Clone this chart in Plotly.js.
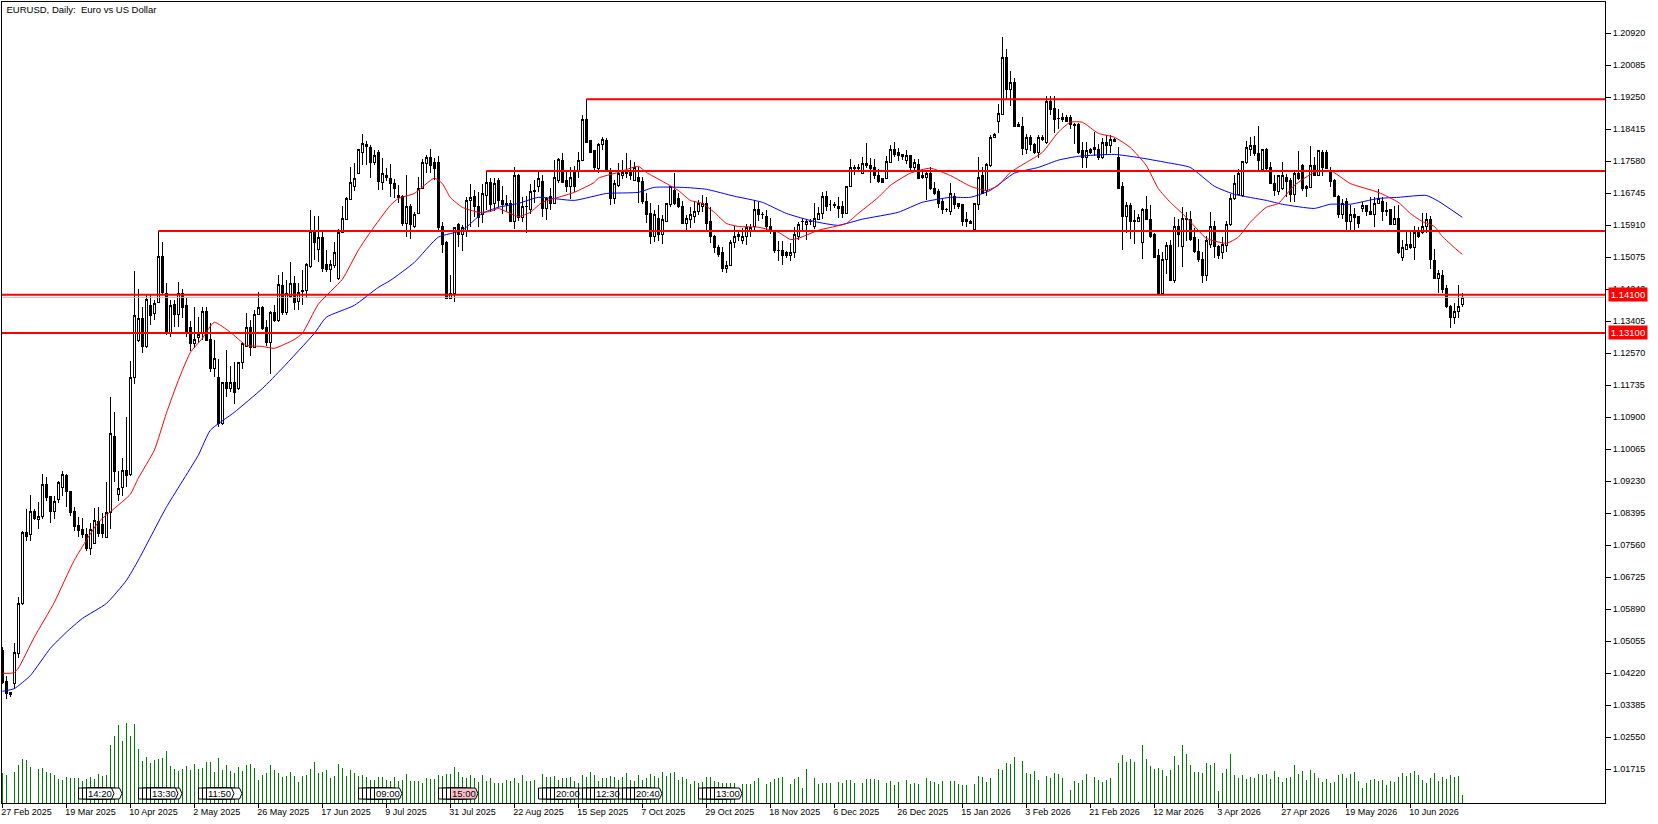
<!DOCTYPE html>
<html>
<head>
<meta charset="utf-8">
<script src="https://cdn.plot.ly/plotly-3.0.1.min.js"></script>
<style>
html,body{margin:0;padding:0;background:#fff}
.boxes path{shape-rendering:crispEdges}
</style>
</head>
<body>
<div id="myDiv" style="width:1658px;height:824px"></div>
<script>
// prices are in 1/10000 of a dollar
var openP = [10482,10401,10372,10395,10473,10604,10790,10784,10845,10822,
10830,10915,10884,10845,10876,10907,10938,10897,10845,10808,
10798,10785,10748,10761,10818,10811,10777,10842,11040,10889,
10907,10952,10941,11194,11291,11348,11275,11382,11361,11390,
11510,11412,11308,11385,11358,11413,11382,11325,11283,11299,
11310,11365,11293,11218,11194,11074,11181,11165,11181,11165,
11233,11275,11325,11272,11358,11377,11325,11285,11364,11343,
11434,11364,11405,11440,11393,11419,11421,11483,11576,11529,
11558,11488,11475,11487,11453,11571,11607,11658,11693,11727,
11782,11801,11795,11754,11782,11704,11720,11712,11701,11670,
11665,11597,11639,11589,11623,11688,11751,11767,11754,11754,
11587,11545,11400,11413,11592,11566,11574,11655,11665,11639,
11618,11670,11704,11647,11709,11657,11649,11649,11602,11722,
11612,11641,11631,11681,11691,11706,11634,11665,11647,11709,
11761,11709,11691,11735,11735,11759,11868,11811,11785,11738,
11801,11811,11735,11662,11696,11722,11730,11730,11709,11717,
11706,11652,11623,11561,11610,11566,11602,11644,11681,11662,
11641,11597,11607,11615,11626,11641,11649,11600,11563,11532,
11519,11477,11485,11545,11566,11552,11561,11576,11587,11633,
11620,11615,11589,11576,11526,11526,11519,11511,11519,11563,
11600,11594,11602,11587,11605,11623,11665,11644,11644,11639,
11639,11623,11691,11738,11741,11727,11751,11748,11741,11722,
11712,11712,11754,11790,11780,11775,11761,11772,11741,11749,
11722,11717,11725,11688,11678,11652,11632,11626,11665,11647,
11644,11605,11600,11581,11644,11720,11681,11746,11821,11863,
11881,12030,11946,11964,11853,11850,11790,11821,11803,11780,
11821,11806,11915,11897,11871,11868,11873,11873,11855,11855,
11785,11767,11788,11793,11790,11769,11806,11798,11816,11767,
11691,11615,11642,11604,11602,11545,11631,11607,11566,11511,
11414,11503,11537,11448,11587,11535,11610,11605,11558,11522,
11501,11461,11542,11587,11535,11519,11537,11592,11660,11672,
11668,11754,11790,11798,11778,11736,11788,11741,11701,11678,
11686,11717,11709,11672,11727,11746,11691,11689,11746,11720,
11782,11780,11733,11709,11665,11618,11652,11600,11620,11615,
11634,11642,11628,11620,11649,11652,11629,11631,11594,11610,
11506,11529,11542,11532,11574,11571,11587,11605,11498,11453,
11461,11425,11379,11350,11366,11385];
var closeP = [10398,10369,10367,10476,10604,10790,10779,10845,10827,10830,
10915,10881,10845,10871,10920,10941,10897,10842,10806,10795,
10785,10748,10798,10821,10787,10787,10842,11048,10949,10905,
10952,10938,11194,11356,11348,11275,11398,11356,11387,11510,
11415,11308,11382,11358,11413,11377,11312,11283,11293,11307,
11365,11291,11218,11244,11074,11181,11165,11181,11155,11233,
11283,11325,11272,11358,11377,11322,11285,11364,11343,11437,
11364,11413,11440,11390,11416,11421,11488,11576,11545,11558,
11477,11475,11490,11521,11573,11610,11660,11702,11712,11788,
11805,11796,11754,11772,11706,11725,11717,11699,11686,11663,
11597,11639,11594,11618,11688,11754,11767,11746,11738,11584,
11542,11400,11413,11584,11566,11584,11657,11663,11639,11612,
11675,11704,11644,11701,11657,11644,11644,11602,11720,11612,
11639,11639,11678,11678,11712,11634,11660,11647,11717,11764,
11704,11693,11717,11691,11761,11868,11808,11782,11741,11803,
11816,11735,11662,11701,11725,11730,11725,11722,11741,11706,
11654,11620,11561,11618,11566,11605,11647,11691,11647,11639,
11597,11610,11618,11626,11647,11649,11597,11561,11532,11516,
11477,11487,11547,11563,11561,11563,11584,11584,11633,11618,
11618,11587,11576,11524,11524,11513,11511,11521,11566,11594,
11602,11600,11600,11610,11623,11665,11641,11644,11643,11636,
11623,11693,11741,11741,11740,11751,11746,11738,11720,11706,
11704,11757,11790,11775,11772,11770,11772,11741,11754,11714,
11717,11725,11686,11673,11649,11631,11631,11675,11644,11641,
11602,11600,11597,11647,11717,11675,11749,11821,11829,11884,
12030,11946,11964,11850,11848,11792,11821,11801,11780,11821,
11814,11913,11892,11868,11869,11873,11863,11855,11852,11782,
11767,11785,11780,11788,11767,11806,11798,11816,11809,11688,
11615,11642,11602,11602,11612,11631,11607,11561,11508,11414,
11503,11537,11448,11587,11566,11610,11605,11555,11522,11503,
11461,11552,11587,11535,11511,11540,11594,11662,11699,11725,
11757,11793,11798,11778,11759,11788,11738,11701,11681,11720,
11720,11706,11672,11727,11714,11686,11686,11746,11720,11785,
11743,11738,11706,11665,11620,11649,11600,11620,11612,11597,
11642,11626,11620,11649,11660,11626,11627,11594,11610,11519,
11532,11542,11532,11571,11563,11587,11607,11501,11453,11464,
11423,11379,11350,11366,11379,11403];
var highP = [10490,10414,10372,10500,10620,10793,10850,10887,10850,10869,
10943,10933,10884,10884,10925,10951,10943,10897,10855,10829,
10827,10800,10814,10853,10855,10840,10920,11142,11105,10949,
10985,11092,11238,11472,11424,11377,11408,11408,11395,11576,
11547,11440,11395,11395,11444,11426,11400,11340,11377,11351,
11377,11377,11336,11291,11241,11181,11265,11225,11233,11233,
11286,11361,11343,11371,11416,11380,11343,11367,11382,11461,
11469,11447,11495,11458,11440,11474,11493,11631,11615,11615,
11576,11526,11500,11547,11581,11641,11665,11743,11754,11788,
11829,11811,11800,11788,11788,11767,11741,11751,11712,11696,
11670,11722,11647,11626,11717,11764,11775,11790,11767,11772,
11599,11550,11461,11584,11597,11592,11665,11699,11683,11678,
11699,11733,11714,11714,11714,11693,11670,11657,11743,11725,
11665,11668,11699,11709,11730,11722,11665,11688,11761,11767,
11780,11730,11743,11745,11782,11878,11920,11814,11788,11806,
11821,11819,11741,11709,11754,11761,11780,11761,11757,11743,
11717,11675,11649,11631,11644,11618,11649,11693,11727,11675,
11654,11618,11639,11654,11657,11670,11665,11639,11566,11540,
11534,11498,11552,11589,11579,11584,11594,11594,11657,11652,
11626,11631,11610,11579,11550,11550,11524,11545,11587,11600,
11610,11607,11607,11649,11639,11678,11680,11657,11652,11665,
11655,11693,11764,11749,11752,11769,11806,11767,11764,11739,
11714,11772,11801,11809,11793,11778,11788,11775,11764,11764,
11730,11735,11743,11703,11686,11662,11637,11701,11675,11650,
11647,11626,11604,11649,11769,11743,11754,11827,11832,11908,
12082,12051,11993,11975,11860,11873,11829,11827,11806,11827,
11827,11928,11928,11928,11894,11884,11879,11879,11857,11859,
11809,11809,11793,11835,11804,11819,11827,11827,11819,11795,
11704,11652,11650,11631,11620,11636,11668,11644,11571,11529,
11522,11547,11552,11613,11607,11639,11626,11628,11584,11555,
11522,11563,11626,11602,11540,11560,11602,11672,11722,11738,
11759,11811,11821,11824,11850,11790,11792,11755,11723,11722,
11756,11726,11715,11730,11785,11750,11697,11798,11768,11788,
11788,11788,11742,11711,11670,11660,11662,11645,11635,11616,
11652,11645,11665,11665,11686,11665,11652,11634,11641,11644,
11552,11578,11574,11589,11587,11623,11623,11614,11529,11474,
11474,11436,11382,11388,11434,11414];
var lowP = [10395,10354,10361,10382,10463,10599,10766,10766,10822,10799,
10824,10871,10815,10824,10866,10884,10855,10832,10793,10777,
10774,10740,10730,10761,10777,10774,10774,10799,10920,10871,
10884,10907,10938,11178,11286,11259,11272,11330,11343,11387,
11412,11305,11300,11325,11325,11348,11300,11262,11272,11285,
11291,11288,11207,11194,11064,11071,11142,11157,11126,11160,
11215,11275,11251,11270,11356,11319,11277,11204,11338,11338,
11356,11356,11400,11369,11369,11382,11400,11480,11500,11495,
11469,11469,11443,11480,11447,11571,11605,11658,11681,11725,
11748,11748,11715,11748,11683,11683,11706,11665,11663,11650,
11589,11561,11556,11584,11623,11688,11727,11727,11709,11576,
11518,11400,11400,11390,11535,11524,11561,11587,11612,11587,
11597,11631,11626,11628,11639,11621,11626,11600,11581,11602,
11600,11571,11620,11649,11678,11612,11605,11631,11647,11701,
11701,11678,11660,11678,11714,11759,11806,11780,11733,11727,
11788,11730,11644,11647,11691,11712,11714,11709,11706,11649,
11647,11597,11542,11547,11550,11542,11600,11639,11644,11636,
11594,11579,11584,11597,11618,11626,11576,11545,11519,11508,
11469,11466,11485,11532,11550,11542,11540,11561,11576,11602,
11607,11579,11568,11519,11498,11488,11506,11498,11506,11552,
11579,11552,11592,11582,11605,11608,11628,11628,11637,11610,
11610,11623,11691,11722,11730,11725,11741,11701,11712,11701,
11701,11712,11754,11769,11759,11762,11751,11735,11735,11714,
11712,11657,11683,11670,11636,11620,11626,11618,11633,11633,
11589,11587,11594,11578,11631,11672,11668,11744,11819,11832,
11878,11920,11902,11848,11848,11775,11778,11785,11778,11767,
11811,11804,11879,11832,11842,11860,11860,11842,11803,11777,
11741,11741,11776,11773,11762,11765,11775,11780,11809,11685,
11526,11571,11555,11542,11602,11503,11604,11558,11505,11412,
11412,11464,11446,11441,11535,11483,11550,11550,11519,11496,
11441,11446,11532,11506,11503,11502,11522,11589,11657,11670,
11664,11751,11773,11773,11736,11736,11735,11701,11668,11670,
11684,11666,11652,11652,11710,11680,11666,11689,11720,11720,
11720,11738,11692,11665,11610,11608,11579,11579,11579,11585,
11625,11615,11617,11587,11647,11602,11614,11592,11592,11517,
11498,11526,11529,11500,11558,11568,11571,11477,11450,11414,
11414,11376,11323,11334,11348,11377];
var volume = [30,28,0,31,38,44,43,36,0,34,35,31,30,28,24,23,26,25,25,25,
22,24,26,24,29,27,28,58,67,78,62,80,67,79,54,42,46,40,43,44,
45,52,37,34,32,34,37,33,39,34,35,41,41,31,45,33,38,32,30,36,
32,38,39,35,23,28,30,38,33,30,26,27,31,27,21,27,28,34,41,30,
31,33,25,27,39,35,27,33,30,27,28,26,23,23,26,26,23,22,26,22,
23,29,22,22,22,20,25,24,24,28,27,29,29,36,31,26,25,28,25,21,
28,22,25,20,20,20,23,22,25,20,28,22,22,23,0,29,26,26,27,23,
25,25,26,22,20,28,26,31,28,22,25,25,27,26,23,26,30,23,22,28,
23,25,29,27,25,31,27,30,31,23,26,24,19,22,20,21,26,26,22,21,
20,20,20,20,0,19,19,19,22,25,0,19,21,24,25,26,0,19,24,26,
15,34,0,25,19,20,20,20,0,21,20,23,23,20,0,20,24,24,24,23,
0,20,22,18,21,0,23,19,20,19,0,25,22,21,19,22,0,22,22,19,
18,18,0,19,27,26,21,25,0,34,33,40,39,46,0,42,30,29,32,23,
0,27,25,30,29,25,0,13,22,20,23,29,0,26,23,21,23,25,0,40,
48,41,44,41,1,58,44,37,34,35,33,27,33,47,38,58,49,38,31,31,
30,40,38,40,12,30,34,49,28,25,28,24,26,25,29,28,29,24,32,26,
21,25,26,38,29,32,23,33,30,25,21,24,20,21,28,29,25,29,31,22,
15,20,23,24,22,23,18,22,21,26,30,27,30,32,28,23,20,25,30,22,
26,24,28,26,27,8];

var redIdx = [0,2,3,4,8,13,18,24,28,32,34,38,41,44,47,50,53,57,61,65,68,73,75,79,85,89,92,97,99,103,108,110,112,115,119,122,124,129,132,135,139,143,148,149,154,159,161,165,169,172,175,178,181,184,189,194,197,199,204,211,214,219,222,227,232,237,242,246,249,252,256,260,264,267,270,274,278,282,286,289,292,295,299,301,306,309,312,316,319,323,328,332,337,344,349,352,355,358,360,363,365];
var redMA = [10422,10422,10424,10435,10516,10607,10717,10816,10852,10889,10931,11004,11100,11186,11259,11296,11338,11312,11278,11275,11270,11293,11309,11385,11450,11526,11573,11643,11661,11674,11714,11700,11664,11638,11625,11627,11635,11614,11625,11651,11664,11677,11703,11714,11729,11745,11729,11706,11682,11656,11648,11625,11596,11588,11586,11573,11554,11557,11578,11596,11622,11664,11695,11727,11740,11721,11693,11682,11695,11729,11755,11781,11834,11860,11860,11831,11821,11794,11747,11687,11651,11622,11578,11557,11544,11560,11599,11638,11648,11695,11729,11734,11700,11677,11651,11622,11601,11588,11562,11533,11515];
var blueIdx = [0,3,7,12,16,20,26,31,34,41,49,52,58,65,70,78,81,88,94,97,103,109,115,120,124,129,134,143,151,159,163,170,176,183,190,196,203,209,215,224,230,237,242,247,253,259,264,269,278,284,291,297,303,308,316,320,328,332,337,344,349,356,359,365];
var blueMA = [10375,10382,10416,10487,10529,10565,10604,10664,10717,10855,10991,11056,11103,11165,11218,11309,11351,11382,11429,11447,11494,11560,11578,11622,11638,11648,11664,11656,11674,11677,11690,11690,11685,11667,11651,11622,11601,11591,11607,11625,11651,11664,11664,11682,11727,11742,11761,11771,11776,11768,11755,11742,11693,11672,11656,11646,11635,11646,11646,11661,11664,11669,11654,11612];

// red horizontal levels: price and the bar they start from
var levelPrice = [1.1410,1.1310,1.1576,1.1733,1.1920];
var levelStart = [-1,-1,39,121,146];
var tagPrices = [1.14100,1.13100];

var priceTicks = [1.20920,1.20085,1.19250,1.18415,1.17580,1.16745,1.15910,1.15075,1.14240,1.13405,1.12570,1.11735,1.10900,1.10065,1.09230,1.08395,1.07560,1.06725,1.05890,1.05055,1.04220,1.03385,1.02550,1.01715];
var dateTicks = [0,16,32,48,64,80,96,112,128,144,160,176,192,208,224,240,256,272,288,304,320,336,352];
var dateLabels = ['27 Feb 2025','19 Mar 2025','10 Apr 2025','2 May 2025','26 May 2025','17 Jun 2025','9 Jul 2025','31 Jul 2025','22 Aug 2025','15 Sep 2025','7 Oct 2025','29 Oct 2025','18 Nov 2025','6 Dec 2025','26 Dec 2025','15 Jan 2026','3 Feb 2026','21 Feb 2026','12 Mar 2026','3 Apr 2026','27 Apr 2026','19 May 2026','10 Jun 2026'];

// event flags along the bottom
var eventBehind = [[78.5,82.5,90.5,94.5],[138.5,142.5,146.5,154.5],[198.5,202.5,210.5,214.5],[358.5,362.5,366.5,370.5],[438.5,442.5,446.5],[538.5,542.5,546.5,550.5],[578.5,582.5,586.5,590.5],[618.5,622.5,626.5,630.5],[698.5,702.5,706.5,710.5]];
var eventMain = [86.5,150.5,206.5,374.5,450.5,554.5,594.5,634.5,714.5];
var eventText = ['14:20','13:30','11:50','09:00','15:00','20:00','12:30','20:40','13:00'];
var eventFill = ['#fff','#fff','#fff','#fff','#ffc0cb','#fff','#fff','#fff','#fff'];

var W = 1658, H = 824, L = 2, R = 53, T = 2, B = 21;
var fontName = '"Liberation Sans", Arial, sans-serif';
var toPrice = function(v){ return v/10000; };
var px = function(x){ return (x-L)/(W-L-R); };
var py = function(y){ return (H-B-y)/(H-T-B); };

var candles = {
  type:'candlestick', x:openP.map(function(v,i){return i;}),
  open:openP.map(toPrice), high:highP.map(toPrice), low:lowP.map(toPrice), close:closeP.map(toPrice),
  whiskerwidth:0,
  increasing:{line:{color:'#000',width:1},fillcolor:'#fff'},
  decreasing:{line:{color:'#000',width:1},fillcolor:'#000'},
  hoverinfo:'skip', showlegend:false
};
var bars = {type:'bar', x:volume.map(function(v,i){return i;}), y:volume, yaxis:'y2', width:0.25,
  marker:{color:'#008000',line:{width:0}}, hoverinfo:'skip', showlegend:false};
var last = closeP[closeP.length-1]/10000;
var bidLine = {type:'scatter', mode:'lines', x:[-1,401], y:[last,last], line:{color:'#c0c0c0',width:1}, hoverinfo:'skip', showlegend:false};
var red = {type:'scatter', mode:'lines', x:redIdx, y:redMA.map(toPrice), line:{color:'#ff0000',width:1,shape:'spline',smoothing:0.5}, hoverinfo:'skip', showlegend:false};
var blue = {type:'scatter', mode:'lines', x:blueIdx, y:blueMA.map(toPrice), line:{color:'#0000ff',width:1,shape:'spline',smoothing:0.5}, hoverinfo:'skip', showlegend:false};
var traces = [bars,candles,bidLine,blue,red];
levelPrice.forEach(function(p,i){
  traces.push({type:'scatter', mode:'lines', x:[levelStart[i],401], y:[p,p], line:{color:'#ff0000',width:2}, hoverinfo:'skip', showlegend:false});
});

var shapes = [], annotations = [];
function flag(x0,fill){
  var w = 25, tip = 27.5, a = 788, b = 799, m = 793.5;
  shapes.push({type:'path', xref:'paper', yref:'paper', layer:'above',
    path:'M'+px(x0)+' '+py(a)+' L'+px(x0+w)+' '+py(a)+' L'+px(x0+tip)+' '+py(m)+' L'+px(x0+w)+' '+py(b)+' L'+px(x0)+' '+py(b)+' Z',
    fillcolor:fill, line:{color:'#000',width:1}});
}
eventMain.forEach(function(x0,i){
  eventBehind[i].forEach(function(b){ flag(b,'#fff'); });
  flag(x0,eventFill[i]);
  annotations.push({xref:'paper', yref:'paper', x:px(x0+13), y:py(793.5), text:eventText[i], showarrow:false,
    xanchor:'center', yanchor:'middle', font:{family:fontName,size:9.5,color:'#000'}});
});
tagPrices.forEach(function(p){
  annotations.push({xref:'paper', yref:'y', x:1+3/(W-L-R), y:p, text:p.toFixed(5), showarrow:false,
    xanchor:'left', yanchor:'middle', bgcolor:'#ff0000', borderpad:1, width:36, height:11, align:'center',
    font:{family:fontName,size:9.5,color:'#fff'}});
});

var layout = {
  width:W, height:H, margin:{l:L,r:R,t:T,b:B,pad:0},
  paper_bgcolor:'#fff', plot_bgcolor:'#fff', showlegend:false,
  title:{text:'EURUSD, Daily:\u00a0\u00a0Euro vs US Dollar', x:6.5/W, xanchor:'left', y:1-10/H, yanchor:'middle', font:{family:fontName,size:9.5,color:'#000'}},
  xaxis:{type:'linear', range:[-0.075,400.68], tickmode:'array', tickvals:dateTicks, ticktext:dateLabels,
    ticklabelposition:'outside right', ticklabelshift:-2, tickangle:0, ticks:'outside', ticklen:4, tickcolor:'#000', tickfont:{family:fontName,size:9,color:'#000'},
    showgrid:false, zeroline:false, showline:true, linecolor:'#000', linewidth:1, mirror:true, rangeslider:{visible:false}},
  yaxis:{side:'right', range:[1.00835,1.21737], tickmode:'array', tickvals:priceTicks, tickformat:'.5f',
    ticks:'outside', ticklen:5, tickcolor:'#000', tickfont:{family:fontName,size:9,color:'#000'},
    showgrid:false, zeroline:false, showline:true, linecolor:'#000', linewidth:1, mirror:true},
  yaxis2:{overlaying:'y', range:[0,801], visible:false, fixedrange:true},
  bargap:0, shapes:shapes, annotations:annotations
};
Plotly.newPlot('myDiv', traces, layout, {displayModeBar:false, staticPlot:true});
</script>
</body>
</html>
